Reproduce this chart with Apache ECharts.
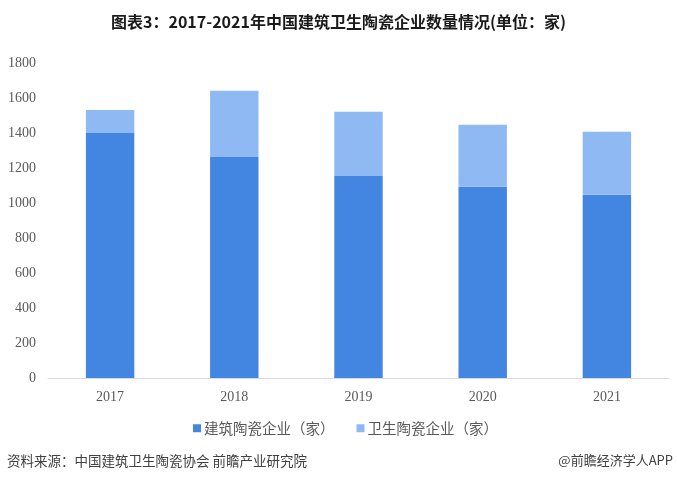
<!DOCTYPE html>
<html>
<head>
<meta charset="utf-8">
<script src="https://cdn.jsdelivr.net/npm/echarts@6/dist/echarts.min.js"></script>
<style>html,body{margin:0;padding:0;background:#fff;}#c{width:677px;height:483px;}</style>
</head>
<body>
<div id="c"></div>
<script>
var categories = ['2017', '2018', '2019', '2020', '2021'];
var buildingCeramics = [1400, 1263, 1155, 1093, 1047];
var sanitaryCeramics = [132, 378, 367, 354, 360];
var seriesNames = ['建筑陶瓷企业（家）', '卫生陶瓷企业（家）'];
var yTicks = { min: 0, max: 1800, interval: 200 };

var chart = echarts.init(document.getElementById('c'));
chart.setOption({
  animation: false,
  backgroundColor: '#ffffff',
  title: {
    text: '图表3：2017-2021年中国建筑卫生陶瓷企业数量情况(单位：家)',
    left: 'center',
    top: 9,
    textStyle: { fontSize: 16, fontWeight: 'bold', color: '#1a1a1a', fontFamily: 'Noto Sans CJK SC' }
  },
  legend: {
    top: 416,
    left: 188,
    itemWidth: 8,
    itemHeight: 8,
    itemGap: 22,
    icon: 'rect',
    textStyle: { fontSize: 14.5, color: '#595959', fontFamily: 'Noto Sans CJK SC', padding: [0, 0, 0, -2] },
    data: seriesNames
  },
  grid: { left: 48, right: 8, top: 63, bottom: 105 },
  xAxis: {
    type: 'category',
    data: categories,
    axisLine: { lineStyle: { color: '#d9d9d9' } },
    axisTick: { show: false },
    axisLabel: { fontSize: 14, color: '#595959', fontFamily: 'Liberation Serif', margin: 12 }
  },
  yAxis: {
    type: 'value',
    min: yTicks.min,
    max: yTicks.max,
    interval: yTicks.interval,
    splitLine: { show: false },
    axisLine: { show: false },
    axisTick: { show: false },
    axisLabel: { fontSize: 14, color: '#595959', fontFamily: 'Liberation Serif', margin: 12, formatter: function (v) { return String(v); } }
  },
  series: [
    {
      name: seriesNames[0], type: 'bar', stack: 'total', barWidth: '39%',
      itemStyle: { color: '#4286E2' }, data: buildingCeramics
    },
    {
      name: seriesNames[1], type: 'bar', stack: 'total', barWidth: '39%',
      itemStyle: { color: '#8FB9F2' }, data: sanitaryCeramics
    }
  ],
  graphic: [
    { type: 'text', left: 7, top: 454, style: { text: '资料来源：中国建筑卫生陶瓷协会 前瞻产业研究院', fontSize: 13.5, fill: '#404040', fontFamily: 'Noto Sans CJK SC' } },
    { type: 'text', right: 4, top: 454, style: { text: '@前瞻经济学人APP', fontSize: 13, fill: '#404040', fontFamily: 'Noto Sans CJK SC' } }
  ]
});
</script>
</body>
</html>
